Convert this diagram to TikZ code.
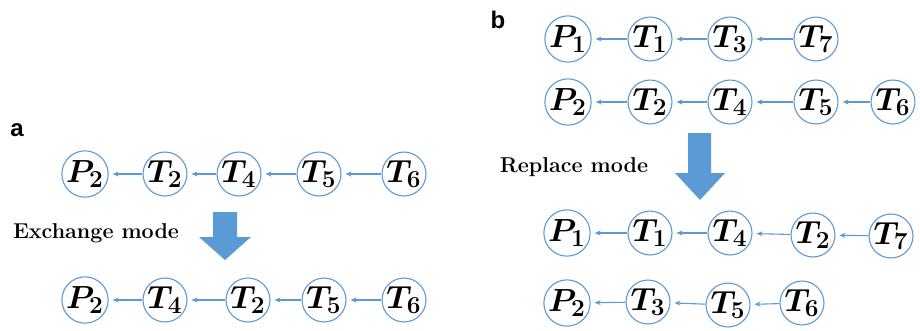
\documentclass[tikz,border=0pt]{standalone}
\usepackage{fontspec}
\usepackage{graphicx}
\newfontfamily\labelfont{Liberation Sans}
\usetikzlibrary{arrows.meta}
\definecolor{lblue}{RGB}{91,155,213}
\newcommand{\mlab}[2]{\raisebox{-1pt}{\scalebox{1.85}{$#1_{\scalebox{1.1}{$\scriptstyle #2$}}$}}}
\begin{document}
\begin{tikzpicture}[x=1pt,y=-1pt,
  tnode/.style={circle,draw=lblue,line width=1.1pt,minimum size=43pt,inner sep=0pt,
    font=\LARGE\boldmath},
  link/.style={draw=lblue,line width=1.1pt,-{Stealth[length=6pt,width=5pt]},shorten >=4pt},
  bigarrow/.style={fill=lblue,draw=none},
  modetext/.style={font=\fontsize{21.5}{21.5}\selectfont\bfseries,inner sep=0pt},
  paneltext/.style={font=\labelfont\fontsize{24}{24}\selectfont\bfseries,inner sep=0pt}]
\useasboundingbox (0,0) rectangle (920,330);

% panel a
\node[paneltext] (la) at (17,130) {a};
\node[tnode] (a1) at (85,174) {\mlab{P}{2}};
\node[tnode] (a2) at (165,174) {\mlab{T}{2}};
\node[tnode] (a3) at (239,174) {\mlab{T}{4}};
\node[tnode] (a4) at (319,174) {\mlab{T}{5}};
\node[tnode] (a5) at (404,174) {\mlab{T}{6}};
\draw[link] (a2) -- (a1);
\draw[link] (a3) -- (a2);
\draw[link] (a4) -- (a3);
\draw[link] (a5) -- (a4);

\node[modetext] (ex) at (96,233) {Exchange mode};
\fill[bigarrow] (213,212) -- (237,212) -- (237,237) -- (251,237) -- (225,260) -- (199,237) -- (213,237) -- cycle;

\node[tnode] (c1) at (85,300) {\mlab{P}{2}};
\node[tnode] (c2) at (165,300) {\mlab{T}{4}};
\node[tnode] (c3) at (248,300) {\mlab{T}{2}};
\node[tnode] (c4) at (324,300) {\mlab{T}{5}};
\node[tnode] (c5) at (404,300) {\mlab{T}{6}};
\draw[link] (c2) -- (c1);
\draw[link] (c3) -- (c2);
\draw[link] (c4) -- (c3);
\draw[link] (c5) -- (c4);

% panel b
\node[paneltext] (lb) at (498,20) {b};
\node[tnode] (b1) at (568,39) {\mlab{P}{1}};
\node[tnode] (b2) at (650,39) {\mlab{T}{1}};
\node[tnode] (b3) at (730,39) {\mlab{T}{3}};
\node[tnode] (b4) at (816,39) {\mlab{T}{7}};
\draw[link] (b2) -- (b1);
\draw[link] (b3) -- (b2);
\draw[link] (b4) -- (b3);

\node[tnode] (d1) at (568,102) {\mlab{P}{2}};
\node[tnode] (d2) at (650,102) {\mlab{T}{2}};
\node[tnode] (d3) at (730,102) {\mlab{T}{4}};
\node[tnode] (d4) at (816,102) {\mlab{T}{5}};
\node[tnode] (d5) at (893,102) {\mlab{T}{6}};
\draw[link] (d2) -- (d1);
\draw[link] (d3) -- (d2);
\draw[link] (d4) -- (d3);
\draw[link] (d5) -- (d4);

\node[modetext] (rp) at (574,167) {Replace mode};
\fill[bigarrow] (688,133) -- (711,133) -- (711,173) -- (725,173) -- (700,200) -- (675,173) -- (688,173) -- cycle;

\node[tnode] (e1) at (567,233) {\mlab{P}{1}};
\node[tnode] (e2) at (650,233) {\mlab{T}{1}};
\node[tnode] (e3) at (730,233) {\mlab{T}{4}};
\node[tnode] (e4) at (813,235) {\mlab{T}{2}};
\node[tnode] (e5) at (891,236) {\mlab{T}{7}};
\draw[link] (e2) -- (e1);
\draw[link] (e3) -- (e2);
\draw[link] (e4) -- (e3);
\draw[link] (e5) -- (e4);

\node[tnode] (f1) at (567,303) {\mlab{P}{2}};
\node[tnode] (f2) at (648,302) {\mlab{T}{3}};
\node[tnode] (f3) at (728,305) {\mlab{T}{5}};
\node[tnode] (f4) at (802,303) {\mlab{T}{6}};
\draw[link] (f2) -- (f1);
\draw[link] (f3) -- (f2);
\draw[link] (f4) -- (f3);
\end{tikzpicture}
\end{document}
